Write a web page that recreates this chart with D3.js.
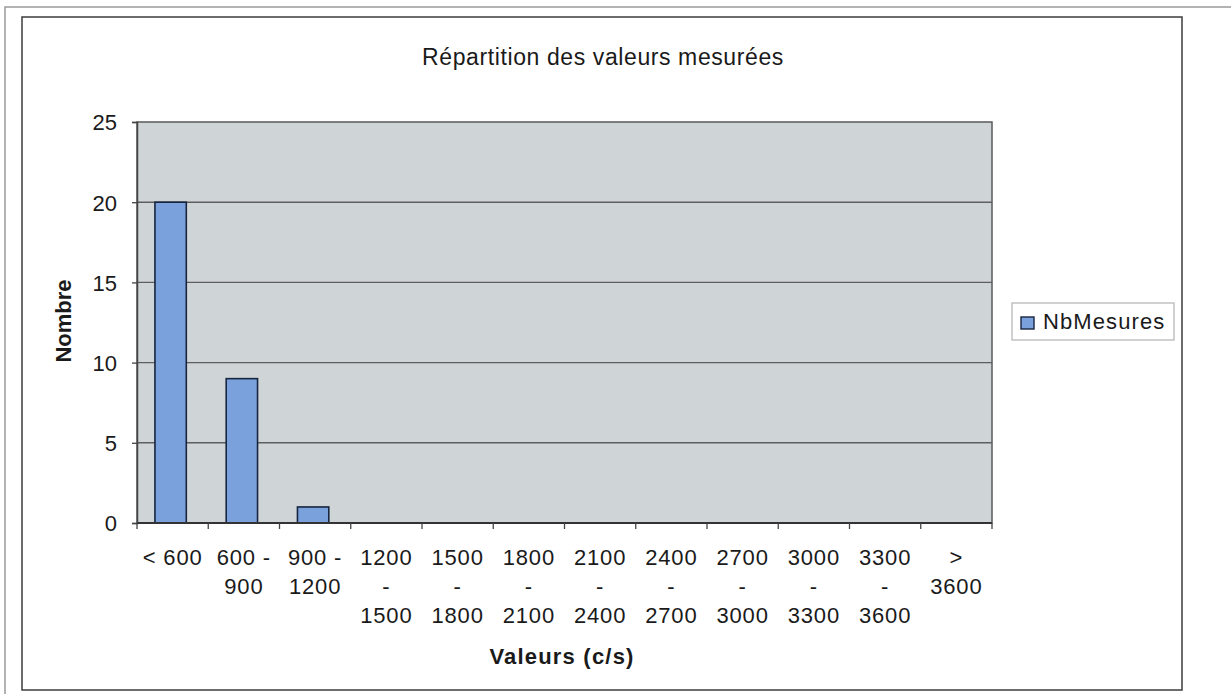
<!DOCTYPE html>
<html>
<head>
<meta charset="utf-8">
<script src="https://cdnjs.cloudflare.com/ajax/libs/d3/7.8.5/d3.min.js"></script>
<style>
  html, body { margin: 0; padding: 0; background: #ffffff; }
  svg { display: block; }
  text { font-family: "Liberation Sans", Arial, sans-serif; fill: #1a1a1a; }
</style>
</head>
<body>
<svg id="chart" width="1231" height="694"></svg>
<script>
// ---- data ----
const categories = ["< 600", "600 - 900", "900 - 1200", "1200 - 1500", "1500 - 1800", "1800 - 2100",
                    "2100 - 2400", "2400 - 2700", "2700 - 3000", "3000 - 3300", "3300 - 3600", "> 3600"];
// how each category label wraps onto lines, as in the picture
const categoryLines = [["< 600"], ["600 -", "900"], ["900 -", "1200"], ["1200", "-", "1500"],
                       ["1500", "-", "1800"], ["1800", "-", "2100"], ["2100", "-", "2400"],
                       ["2400", "-", "2700"], ["2700", "-", "3000"], ["3000", "-", "3300"],
                       ["3300", "-", "3600"], [">", "3600"]];
const nbMesures = [20, 9, 1, 0, 0, 0, 0, 0, 0, 0, 0, 0];
const yTicks = [0, 5, 10, 15, 20, 25];
const seriesName = "NbMesures";
const titleText = "Répartition des valeurs mesurées";
const xTitle = "Valeurs (c/s)";
const yTitle = "Nombre";

// ---- layout ----
const svg = d3.select("#chart");
const plot = { left: 137, right: 992, top: 122, bottom: 523 };

// frames
svg.append("rect").attr("x", 5).attr("y", 7).attr("width", 1240).attr("height", 700)
  .attr("fill", "none").attr("stroke", "#9a9a9a").attr("stroke-width", 1.5);
svg.append("rect").attr("x", 22).attr("y", 17).attr("width", 1160).attr("height", 673)
  .attr("fill", "#ffffff").attr("stroke", "#3c3c3c").attr("stroke-width", 1.5);

const x = d3.scaleBand().domain(categories).range([plot.left, plot.right]).padding(0);
const y = d3.scaleLinear().domain([0, 25]).range([plot.bottom, plot.top]);

// plot background
svg.append("rect").attr("x", plot.left).attr("y", plot.top)
  .attr("width", plot.right - plot.left).attr("height", plot.bottom - plot.top)
  .attr("fill", "#cfd4d7").attr("stroke", "#5a5a5a").attr("stroke-width", 1.5);

// gridlines
svg.append("g").selectAll("line").data(yTicks.filter(d => d > 0 && d < 25)).join("line")
  .attr("x1", plot.left).attr("x2", plot.right)
  .attr("y1", d => y(d)).attr("y2", d => y(d))
  .attr("stroke", "#5e5e5e").attr("stroke-width", 1.4);

// bars
const barW = x.bandwidth() * 0.44;
svg.append("g").selectAll("rect").data(categories.map((c, i) => ({ c, v: nbMesures[i] })).filter(d => d.v > 0))
  .join("rect")
  .attr("x", d => x(d.c) + (x.bandwidth() - barW) / 2 - 2)
  .attr("y", d => y(d.v))
  .attr("width", barW)
  .attr("height", d => y(0) - y(d.v))
  .attr("fill", "#7ba1dc")
  .attr("stroke", "#17253f")
  .attr("stroke-width", 1.6);

// y axis
const yAxis = d3.axisLeft(y).tickValues(yTicks).tickSize(5).tickPadding(15).tickFormat(d3.format("d"));
const gy = svg.append("g").attr("transform", `translate(${plot.left},0)`).call(yAxis);
gy.select(".domain").attr("stroke", "#444").attr("stroke-width", 1.5);
gy.selectAll(".tick line").attr("stroke", "#444").attr("stroke-width", 1.3);
gy.selectAll(".tick text").attr("font-size", 22).attr("fill", "#1a1a1a")
  .attr("font-family", "'Liberation Sans', Arial, sans-serif").attr("dy", "0.36em");

// x axis (ticks at category boundaries)
const gx = svg.append("g").attr("transform", `translate(0,${plot.bottom})`);
gx.append("line").attr("x1", plot.left).attr("x2", plot.right).attr("y1", 0).attr("y2", 0)
  .attr("stroke", "#333").attr("stroke-width", 1.8);
const boundaries = categories.map(c => x(c)).concat([plot.right]);
gx.selectAll("line.tk").data(boundaries).join("line").attr("class", "tk")
  .attr("x1", d => d).attr("x2", d => d).attr("y1", 0).attr("y2", 6)
  .attr("stroke", "#444").attr("stroke-width", 1.3);

const labels = svg.append("g");
categories.forEach((c, i) => {
  const cx = x(c) + x.bandwidth() / 2;
  const t = labels.append("text").attr("text-anchor", "middle").attr("font-size", 22)
    .attr("letter-spacing", "0.8px");
  categoryLines[i].forEach((ln, j) => {
    t.append("tspan").attr("x", cx).attr("y", 565 + j * 29).text(ln);
  });
});

// titles
svg.append("text").attr("x", 603).attr("y", 65).attr("text-anchor", "middle")
  .attr("font-size", 23).attr("letter-spacing", "0.6px").text(titleText);
svg.append("text").attr("x", 562).attr("y", 664).attr("text-anchor", "middle")
  .attr("font-size", 22).attr("font-weight", "bold").attr("letter-spacing", "1.2px").text(xTitle);
svg.append("text").attr("transform", "translate(71,321) rotate(-90)").attr("text-anchor", "middle")
  .attr("font-size", 22).attr("font-weight", "bold").text(yTitle);

// legend
const lg = svg.append("g");
lg.append("rect").attr("x", 1012).attr("y", 303).attr("width", 162).attr("height", 37)
  .attr("fill", "#ffffff").attr("stroke", "#b8b8b8").attr("stroke-width", 1.3);
lg.append("rect").attr("x", 1021).attr("y", 317).attr("width", 13).attr("height", 12)
  .attr("fill", "#7ba1dc").attr("stroke", "#17253f").attr("stroke-width", 1.4);
lg.append("text").attr("x", 1043).attr("y", 329).attr("font-size", 22)
  .attr("letter-spacing", "1.1px").text(seriesName);
</script>
</body>
</html>
